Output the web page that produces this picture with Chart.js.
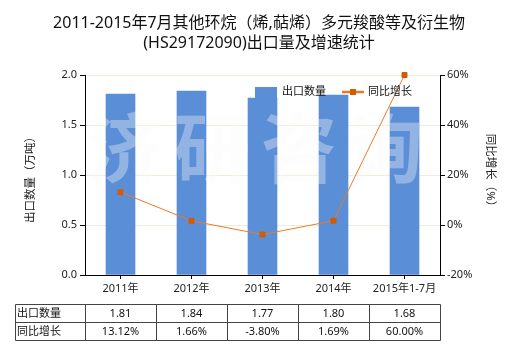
<!DOCTYPE html>
<html><head><meta charset="utf-8">
<script src="https://cdn.jsdelivr.net/npm/chart.js@4"></script>
<style>html,body{margin:0;padding:0;background:#fff}canvas{display:block}</style>
</head><body>
<canvas id="c" width="520" height="350"></canvas>
<script>
const categories = ['2011年','2012年','2013年','2014年','2015年1-7月'];
const exportQty = [1.81, 1.84, 1.77, 1.80, 1.68];
const growthPct = [13.12, 1.66, -3.80, 1.69, 60.00];
const exportQtyLabels = ['1.81','1.84','1.77','1.80','1.68'];
const growthPctLabels = ['13.12%','1.66%','-3.80%','1.69%','60.00%'];
const titleLines = ['2011-2015年7月其他环烷（烯,萜烯）多元羧酸等及衍生物','(HS29172090)出口量及增速统计'];
const seriesNames = ['出口数量','同比增长'];
const axisTitles = ['出口数量（万吨）','同比增长（%）'];
const watermarkText = '济研咨询';

const FONT = '"Noto Sans", "Noto Sans CJK SC", sans-serif';
const BAR = '#5A8ED6';
const LINE = '#EC7A24';
const MARK = '#D35A06';

const extras = {
  id: 'extras',
  afterDatasetDraw(chart, args) {
    if (args.index !== 0) return;
    const ctx = chart.ctx, a = chart.chartArea;
    ctx.save();
    ctx.beginPath(); ctx.rect(a.left, a.top, a.right - a.left, a.bottom - a.top); ctx.clip();
    ctx.font = 'bold 76px "Noto Sans CJK SC", sans-serif';
    ctx.fillStyle = 'rgba(250,250,250,0.36)';
    ctx.textAlign = 'center'; ctx.textBaseline = 'middle';
    const xs = [125, 212, 299, 385];
    for (let i = 0; i < watermarkText.length; i++) ctx.fillText(watermarkText[i], xs[i], 148);
    ctx.restore();
  },
  afterDraw(chart) {
    const ctx = chart.ctx, xs = chart.scales.x;
    ctx.save();
    // title
    ctx.fillStyle = '#111';
    ctx.font = '16px ' + FONT;
    ctx.textAlign = 'center'; ctx.textBaseline = 'middle';
    ctx.fillText(titleLines[0], 259, 23);
    ctx.fillText(titleLines[1], 259, 43);
    // axis titles
    ctx.font = '11.5px ' + FONT;
    ctx.fillStyle = '#222';
    ctx.save(); ctx.translate(31, 177); ctx.rotate(-Math.PI/2); ctx.fillText(axisTitles[0], 0, 0); ctx.restore();
    ctx.save(); ctx.translate(490, 173); ctx.rotate(Math.PI/2); ctx.fillText(axisTitles[1], 0, 0); ctx.restore();
    // legend
    ctx.fillStyle = BAR; ctx.fillRect(255, 87, 22, 11);
    ctx.fillStyle = '#111'; ctx.font = '11px ' + FONT; ctx.textAlign = 'left';
    ctx.fillText(seriesNames[0], 282, 92);
    ctx.strokeStyle = LINE; ctx.lineWidth = 2.5;
    ctx.beginPath(); ctx.moveTo(342, 92); ctx.lineTo(364, 92); ctx.stroke();
    ctx.fillStyle = MARK; ctx.fillRect(350, 89, 6, 6);
    ctx.fillStyle = '#111';
    ctx.fillText(seriesNames[1], 368, 92);
    // table
    const n = categories.length;
    const w = (xs.right - xs.left) / n;
    const y0 = 304.5, y1 = 322.5, y2 = 340.5, xL = 15.5;
    const xR = Math.round(xs.right) + 0.5;
    ctx.strokeStyle = '#444'; ctx.lineWidth = 1;
    ctx.beginPath();
    [y0, y1, y2].forEach(y => { ctx.moveTo(xL, y); ctx.lineTo(xR, y); });
    ctx.moveTo(xL, y0); ctx.lineTo(xL, y2);
    for (let i = 0; i <= n; i++) {
      const x = Math.round(xs.left + i * w) + 0.5;
      ctx.moveTo(x, y0); ctx.lineTo(x, y2);
    }
    ctx.stroke();
    ctx.fillStyle = '#111'; ctx.font = '11px ' + FONT;
    ctx.textAlign = 'left';
    ctx.fillText(seriesNames[0], 17, 313.5);
    ctx.fillText(seriesNames[1], 17, 331.5);
    ctx.textAlign = 'center';
    for (let i = 0; i < n; i++) {
      const cx = xs.getPixelForValue(i);
      ctx.fillText(exportQtyLabels[i], cx, 313.5);
      ctx.fillText(growthPctLabels[i], cx, 331.5);
    }
    ctx.restore();
  }
};

new Chart(document.getElementById('c'), {
  data: {
    labels: categories,
    datasets: [
      { type: 'bar', label: seriesNames[0], data: exportQty, yAxisID: 'y',
        backgroundColor: BAR, barThickness: 29, order: 1 },
      { type: 'line', label: seriesNames[1], data: growthPct, yAxisID: 'y1',
        borderColor: LINE, borderWidth: 1, pointStyle: 'rect', pointRadius: 3.5,
        pointBackgroundColor: MARK, pointBorderColor: MARK, pointBorderWidth: 1,
        tension: 0, order: 0, clip: false }
    ]
  },
  options: {
    responsive: false, devicePixelRatio: 1, animation: false,
    layout: { padding: { top: 75, bottom: 50, left: 0, right: 0 } },
    plugins: { legend: { display: false }, title: { display: false }, tooltip: { enabled: false } },
    scales: {
      x: {
        offset: true,
        grid: { display: true, drawOnChartArea: false, offset: false, tickColor: '#000', tickLength: 4 },
        border: { color: '#000', width: 1 },
        ticks: { color: '#222', font: { size: 11, family: FONT }, padding: 3, maxRotation: 0, autoSkip: false },
        afterFit(s) { s.height = 25; }
      },
      y: {
        position: 'left', min: 0, max: 2, 
        grid: { color: '#EFEDDB', tickColor: '#000', tickLength: 5 },
        border: { color: '#000', width: 1 },
        ticks: { stepSize: 0.5, color: '#222', font: { size: 11, family: FONT }, padding: 3,
                 callback: v => v.toFixed(1) },
        afterFit(s) { s.width = 85; }
      },
      y1: {
        position: 'right', min: -20, max: 60,
        grid: { drawOnChartArea: false, tickColor: '#000', tickLength: 5 },
        border: { color: '#000', width: 1 },
        ticks: { stepSize: 20, color: '#222', font: { size: 11, family: FONT }, padding: 2,
                 callback: v => v + '%' },
        afterFit(s) { s.width = 80; }
      }
    }
  },
  plugins: [extras]
});
</script>
</body></html>
